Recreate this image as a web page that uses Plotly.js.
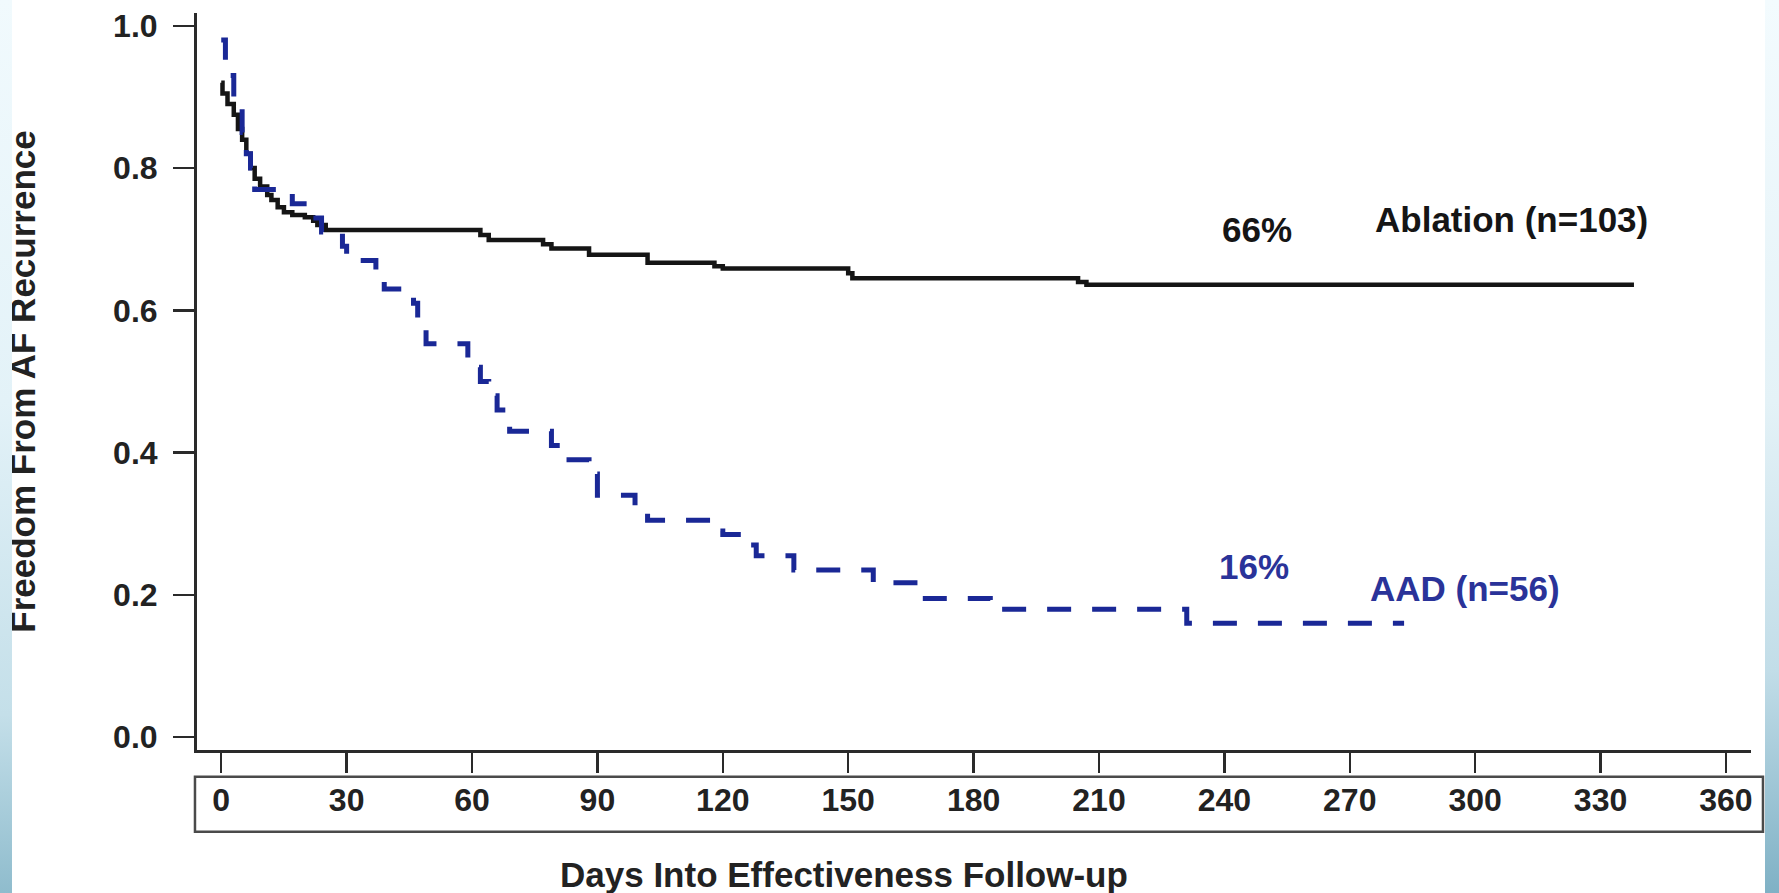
<!DOCTYPE html>
<html>
<head>
<meta charset="utf-8">
<script src="https://cdn.plot.ly/plotly-3.0.1.min.js"></script>
<style>
  html, body { margin: 0; padding: 0; background: #ffffff; overflow: hidden; }
  #chart { width: 1779px; height: 893px; }
  .strip { position: absolute; top: 0; height: 893px; pointer-events: none; }
  #leftStrip { left: 0; width: 12px; background: linear-gradient(to bottom, #f1fafd 0%, #e3f2f8 45%, #c4dfe9 80%, #8fbccd 100%); }
  #rightStrip { left: 1765px; width: 14px; background: linear-gradient(to bottom, #f3fbfe 0%, #e4f2f7 45%, #c2dde8 75%, #7fb1c5 100%); }
</style>
</head>
<body>
<div id="chart"></div>
<div class="strip" id="leftStrip"></div>
<div class="strip" id="rightStrip"></div>
<script>
// Ablation arm (Kaplan-Meier steps): day, freedom from AF recurrence
const ablationDays = [0, 0.3, 1.5, 3, 4, 5, 6, 7, 8, 9.3, 11, 12, 13.5, 15, 17, 20, 22, 23, 25, 62, 64, 77, 79, 88, 102, 118, 120, 150, 151, 205, 207, 338];
const ablationSurv = [0.92, 0.905, 0.89, 0.875, 0.855, 0.84, 0.82, 0.80, 0.785, 0.774, 0.762, 0.755, 0.745, 0.738, 0.734, 0.731, 0.726, 0.72, 0.713, 0.706, 0.699, 0.693, 0.687, 0.678, 0.667, 0.662, 0.659, 0.652, 0.645, 0.64, 0.636, 0.636];

// AAD arm (Kaplan-Meier steps)
const aadDays = [0, 1, 3, 5, 6, 7, 8, 17, 22, 24, 29, 30, 37, 39, 46, 47, 49, 59, 62, 64, 66, 69, 79, 82, 88, 90, 99, 102, 117, 120, 125, 128, 137, 156, 167, 184, 231, 283];
const aadSurv = [0.98, 0.93, 0.89, 0.85, 0.82, 0.80, 0.77, 0.75, 0.73, 0.71, 0.69, 0.67, 0.65, 0.63, 0.61, 0.58, 0.553, 0.52, 0.50, 0.48, 0.46, 0.43, 0.41, 0.39, 0.37, 0.34, 0.32, 0.305, 0.29, 0.285, 0.27, 0.255, 0.235, 0.217, 0.195, 0.18, 0.16, 0.16];

// Axis ticks
const xTickVals = [0, 30, 60, 90, 120, 150, 180, 210, 240, 270, 300, 330, 360];
const xTickText = ["0", "30", "60", "90", "120", "150", "180", "210", "240", "270", "300", "330", "360"];
const yTickVals = [0.0, 0.2, 0.4, 0.6, 0.8, 1.0];
const yTickText = ["0.0", "0.2", "0.4", "0.6", "0.8", "1.0"];

// Text labels
const labelTexts = ["66%", "Ablation (n=103)", "16%", "AAD (n=56)"];
const labelX = [247.7, 308.7, 247, 297.6];
const labelY = [0.713, 0.728, 0.2405, 0.2096];
const xTitle = "Days Into Effectiveness Follow-up";
const yTitle = "Freedom From AF Recurrence";

const FONT = "Liberation Sans, Arial, Helvetica, sans-serif";
const BLACK = "#151515";
const BLUE = "#1a2896";
const BLUE_TEXT = "#2a3399";

const traces = [
  {
    x: ablationDays, y: ablationSurv, type: "scatter", mode: "lines",
    line: { shape: "hv", color: BLACK, width: 4.5 },
    name: "Ablation", hoverinfo: "skip"
  },
  {
    x: aadDays, y: aadSurv, type: "scatter", mode: "lines",
    line: { shape: "hv", color: BLUE, width: 5, dash: "24px,21px" },
    name: "AAD", hoverinfo: "skip"
  }
];

const labelColors = [BLACK, BLACK, BLUE_TEXT, BLUE_TEXT];
const annotations = labelTexts.map((t, i) => ({
  x: labelX[i], y: labelY[i], xref: "x", yref: "y", text: t, showarrow: false,
  xanchor: "center", yanchor: "middle",
  font: { family: FONT, size: 35, color: labelColors[i], weight: "bold" }
}));

const plotW = 1779 - 197 - 28, plotH = 893 - 13 - 143;
annotations.push({
  x: (844 - 197) / plotW, y: (750 - 874) / plotH, xref: "paper", yref: "paper",
  text: xTitle, showarrow: false, xanchor: "center", yanchor: "middle",
  font: { family: FONT, size: 35, color: "#222", weight: "bold" }
});

const layout = {
  width: 1779, height: 893,
  margin: { l: 197, r: 28, t: 13, b: 143 },
  paper_bgcolor: "rgba(255,255,255,1)",
  plot_bgcolor: "rgba(255,255,255,1)",
  showlegend: false,
  font: { family: FONT, color: "#222" },
  xaxis: {
    range: [-5.8, 366], showgrid: false, zeroline: false,
    showline: true, linecolor: "#2a2a2a", linewidth: 3,
    ticks: "outside", ticklen: 20, tickwidth: 2.5, tickcolor: "#2a2a2a",
    tickvals: xTickVals, ticktext: xTickText,
    tickfont: { family: FONT, size: 32, color: "#222", weight: "bold" },
    ticklabelstandoff: 0
  },
  yaxis: {
    range: [-0.018, 1.018], showgrid: false, zeroline: false,
    showline: true, linecolor: "#2a2a2a", linewidth: 3,
    ticks: "outside", ticklen: 21, tickwidth: 2.5, tickcolor: "#2a2a2a",
    tickvals: yTickVals, ticktext: yTickText,
    tickfont: { family: FONT, size: 32, color: "#222", weight: "bold" },
    ticklabelstandoff: 9,
    title: { text: yTitle, standoff: 67, font: { family: FONT, size: 35, color: "#222", weight: "bold" } }
  },
  annotations: annotations,
  shapes: [
    {
      type: "rect", xref: "paper", yref: "paper",
      x0: -0.0013, x1: 1.0077, y0: -0.111, y1: -0.0362,
      line: { color: "#4a4a4a", width: 2.5 }, fillcolor: "rgba(0,0,0,0)"
    }
  ]
};

Plotly.newPlot("chart", traces, layout, { staticPlot: true, displayModeBar: false });
</script>
</body>
</html>
